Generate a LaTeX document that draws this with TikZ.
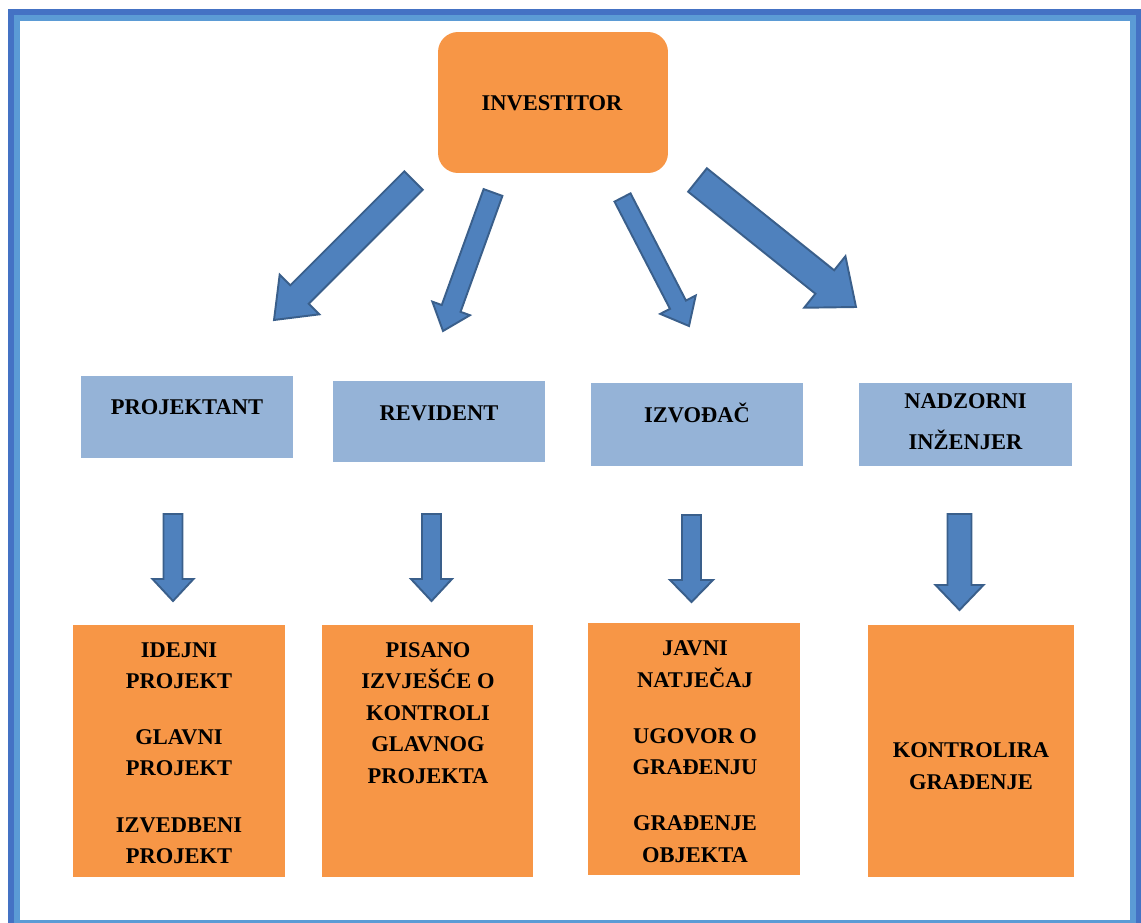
\documentclass[tikz,border=0pt]{standalone}
\usepackage{fontspec}
\setmainfont{Liberation Serif}
\usetikzlibrary{calc,positioning}

\definecolor{frameout}{HTML}{4472C4}
\definecolor{framein}{HTML}{5B9BD5}
\definecolor{orangebox}{HTML}{F79646}
\definecolor{bluebox}{HTML}{95B3D7}
\definecolor{arrowfill}{HTML}{4F81BD}
\definecolor{arrowline}{HTML}{3A5F8B}

\tikzset{
  orbox/.style={fill=orangebox, inner sep=0pt, outer sep=0pt},
  blbox/.style={fill=bluebox, inner sep=0pt, outer sep=0pt, minimum width=4.24cm},
  lbl/.style={font=\fontsize{12.8}{17.9}\selectfont\bfseries, align=center, inner sep=0pt},
  barrow/.style={draw=arrowline, fill=arrowfill, line width=1.1pt, line join=miter}
}

% block arrow: from, to, half shaft, half head, head length
\newcommand{\blockarrow}[5]{%
  \coordinate (neck) at ($(#2)!#5!(#1)$);
  \draw[barrow] ($(#1)!#3!90:(#2)$) -- ($(neck)!#3!90:(#2)$) -- ($(neck)!#4!90:(#2)$) -- (#2)
    -- ($(neck)!#4!-90:(#2)$) -- ($(neck)!#3!-90:(#2)$) -- ($(#1)!#3!-90:(#2)$) -- cycle;
}

\begin{document}
\begin{tikzpicture}[x=0.02cm,y=-0.02cm]
\useasboundingbox (0,0) rectangle (1141,922);

%Frame
\draw[frameout, line width=3.41pt] (11,12) rectangle (1139,929);
\draw[framein, line width=3.41pt] (17,18) rectangle (1133,923);

%Top
\node[orbox, rounded corners=0.4cm, minimum width=4.6cm, minimum height=2.82cm] (inv) at (553,102.5) {};
\node[lbl] (invt) at (552,103) {INVESTITOR};

%Middle row
\node[blbox, minimum height=1.64cm] (b1) at (187,417) {};
\node[blbox, minimum height=1.62cm] (b2) at (439,421.5) {};
\node[blbox, minimum height=1.66cm] (b3) at (697,424.5) {};
\node[blbox, minimum height=1.66cm, minimum width=4.26cm] (b4) at (965.5,424.5) {};
\node[lbl] (b1t) at (187,407) {PROJEKTANT};
\node[lbl] (b2t) at (439,413) {REVIDENT};
\node[lbl] (b3t) at (697,413) {IZVOĐAČ};
\node[lbl] (b4t) at (965.5,421.5) {NADZORNI\\[5.4pt]INŽENJER};

%Bottom row
\node[orbox, minimum width=4.24cm, minimum height=5.04cm] (o1) at (179,751) {};
\node[orbox, minimum width=4.22cm, minimum height=5.04cm] (o2) at (427.5,751) {};
\node[orbox, minimum width=4.24cm, minimum height=5.04cm] (o3) at (694,749) {};
\node[orbox, minimum width=4.12cm, minimum height=5.04cm] (o4) at (971,751) {};
\node[lbl] (o1t) at (179,753) {IDEJNI\\PROJEKT\\[14pt]GLAVNI\\PROJEKT\\[14pt]IZVEDBENI\\PROJEKT};
\node[lbl] (o2t) at (428,713) {PISANO\\IZVJEŠĆE O\\KONTROLI\\GLAVNOG\\PROJEKTA};
\node[lbl] (o3t) at (695,751.5) {JAVNI\\NATJEČAJ\\[14pt]UGOVOR O\\GRAĐENJU\\[14pt]GRAĐENJE\\OBJEKTA};
\node[lbl] (o4t) at (971,766) {KONTROLIRA\\GRAĐENJE};

%Arrow ends
\coordinate (a1s) at (413.5,180.5);
\coordinate (a1e) at (274,320);
\coordinate (a2s) at (493,192.5);
\coordinate (a2e) at (443,331);
\coordinate (a3s) at (622.5,197.5);
\coordinate (a3e) at (689,326);
\coordinate (a4s) at (697.5,180);
\coordinate (a4e) at (856,307);
\coordinate (d1s) at (173,514);
\coordinate (d1e) at (173,601);
\coordinate (d2s) at (431.5,514);
\coordinate (d2e) at (431.5,601);
\coordinate (d3s) at (691.5,515);
\coordinate (d3e) at (691.5,602);
\coordinate (d4s) at (959.5,514);
\coordinate (d4e) at (959.5,610);

%Arrows
\blockarrow{a1s}{a1e}{0.26cm}{0.56cm}{0.72cm}
\blockarrow{a2s}{a2e}{0.20cm}{0.40cm}{0.48cm}
\blockarrow{a3s}{a3e}{0.18cm}{0.40cm}{0.48cm}
\blockarrow{a4s}{a4e}{0.30cm}{0.66cm}{0.80cm}
\blockarrow{d1s}{d1e}{0.19cm}{0.41cm}{0.44cm}
\blockarrow{d2s}{d2e}{0.19cm}{0.41cm}{0.44cm}
\blockarrow{d3s}{d3e}{0.19cm}{0.43cm}{0.44cm}
\blockarrow{d4s}{d4e}{0.24cm}{0.48cm}{0.50cm}
\end{tikzpicture}
\end{document}
